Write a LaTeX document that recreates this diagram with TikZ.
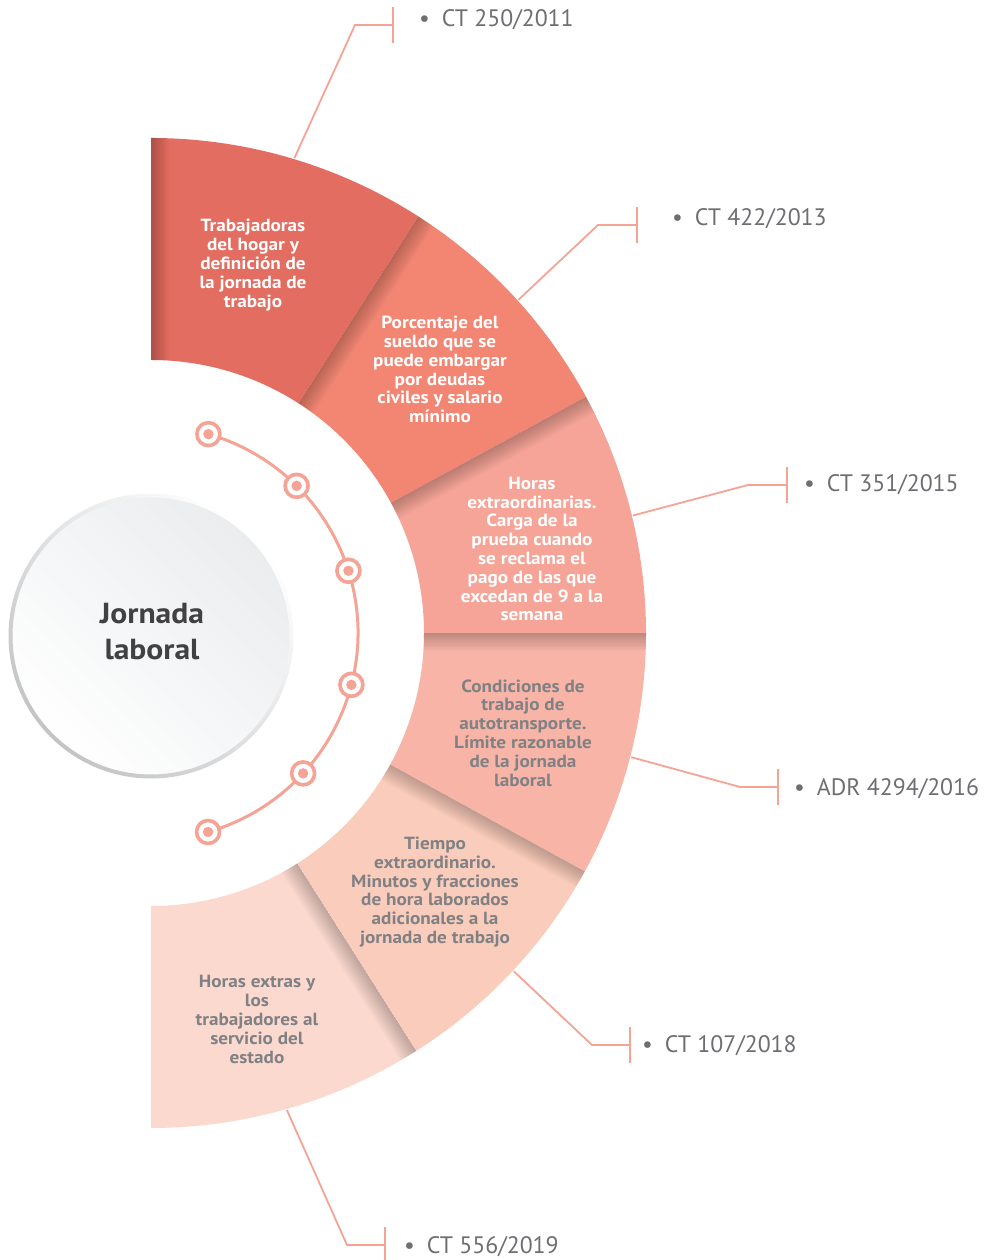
\documentclass[tikz,border=0pt]{standalone}
\usepackage{fontspec}
\setmainfont{PT Sans}
\newfontfamily\widefont[FakeStretch=1.09]{PT Sans}
\usetikzlibrary{calc}

\definecolor{seg1}{HTML}{E36D60}
\definecolor{seg2}{HTML}{F28673}
\definecolor{seg3}{HTML}{F5A497}
\definecolor{seg4}{HTML}{F8B4A7}
\definecolor{seg5}{HTML}{FACCBB}
\definecolor{seg6}{HTML}{FBD9CF}
\definecolor{salmon}{HTML}{F4A395}
\definecolor{labelgray}{HTML}{6D6E71}
\definecolor{softgray}{HTML}{808184}
\definecolor{hubgray}{HTML}{414042}
\definecolor{hubshade}{HTML}{EAECEE}
\definecolor{rimgray}{HTML}{C3C4C6}

\tikzset{
  segtext/.style={align=center, font=\widefont\bfseries\fontsize{17.6}{18.8}\selectfont, inner sep=0pt},
  lighttext/.style={segtext, text=white},
  darktext/.style={segtext, text=softgray},
  reflabel/.style={anchor=west, inner sep=0pt, text=labelgray, font=\fontsize{23.8}{27}\selectfont},
  leader/.style={draw=salmon, line width=1.8pt},
  marker/.style={circle, draw=salmon, line width=3.6pt, fill=white, minimum size=23pt, inner sep=0pt},
}

\begin{document}
\begin{tikzpicture}[x=1pt, y=1pt]
\useasboundingbox (0,0) rectangle (987,1260);

% ---- fan of topic segments around the hub ----
\begin{scope}[shift={(151,627)}]
  \foreach \a/\b/\col in {90/57.3/seg1, 57.3/28.5/seg2, 28.5/0/seg3,
                          0/-28.8/seg4, -28.8/-57.6/seg5, -57.6/-90/seg6}{
    \fill[\col] (\a:495) arc[start angle=\a, end angle=\b, radius=495]
      -- (\b:273) arc[start angle=\b, end angle=\a, radius=273] -- cycle;
    % soft shadow along the leading edge of each segment
    \begin{scope}
      \clip (\a:495) arc[start angle=\a, end angle=\b, radius=495]
        -- (\b:273) arc[start angle=\b, end angle=\a, radius=273] -- cycle;
      \foreach \i in {1,...,10}
        \fill[black, opacity=0.024, rotate=\a] (240,0) rectangle (520,{-1.8*\i});
    \end{scope}
  }

  % anchor points of the leader lines on the outer rim
  \coordinate (c1) at (73.2:496);
  \coordinate (c2) at (42.2:496);
  \coordinate (c3) at (13.7:496);
  \coordinate (c4) at (-14.5:496);
  \coordinate (c5) at (-43:496);
  \coordinate (c6) at (-74.1:496);

  % timeline arc with its markers
  \draw[salmon, line width=3pt] (73.9:207) arc[start angle=73.9, end angle=-74, radius=207];
  \foreach \n/\ang in {1/73.9, 2/45.3, 3/17.5, 4/-14.5, 5/-42.7, 6/-74}{
    \node[marker] (m\n) at (\ang:207) {};
    \fill[salmon] (m\n) circle (5.2);
  }
\end{scope}

% ---- central hub ----
\shade[top color=hubshade, bottom color=white, shading angle=-45] (151,624) circle (142);
\shade[even odd rule, top color=white, bottom color=rimgray, shading angle=-45]
  (151,624) circle (142.5) (151,624) circle (138.5);
\node[align=center, text=hubgray, font=\widefont\bfseries\fontsize{29}{36}\selectfont, inner sep=0pt]
  (hub) at (152,628) {Jornada\\laboral};

% ---- segment texts ----
\node[lighttext] (s1) at (253,995) {Trabajadoras\\del hogar y\\definición de\\la jornada de\\trabajo};
\node[lighttext] (s2) at (440,890.5) {Porcentaje del\\sueldo que se\\puede embargar\\por deudas\\civiles y salario\\mínimo};
\node[lighttext] (s3) at (532,711) {Horas\\extraordinarias.\\Carga de la\\prueba cuando\\se reclama el\\pago de las que\\excedan de 9 a la\\semana};
\node[darktext] (s4) at (523,527) {Condiciones de\\trabajo de\\autotransporte.\\Límite razonable\\de la jornada\\laboral};
\node[darktext] (s5) at (435,368) {Tiempo\\extraordinario.\\Minutos y fracciones\\de hora laborados\\adicionales a la\\jornada de trabajo};
\node[darktext] (s6) at (257,240.5) {Horas extras y\\los\\trabajadores al\\servicio del\\estado};

% ---- reference labels ----
\node[reflabel] (l1) at (419,1240) {•\hspace{12pt}CT 250/2011};
\node[reflabel] (l2) at (672,1041) {•\hspace{12pt}CT 422/2013};
\node[reflabel] (l3) at (804,775) {•\hspace{12pt}CT 351/2015};
\node[reflabel] (l4) at (794,471) {•\hspace{12pt}ADR 4294/2016};
\node[reflabel] (l5) at (642,214) {•\hspace{12pt}CT 107/2018};
\node[reflabel] (l6) at (404,13) {•\hspace{12pt}CT 556/2019};

% ---- leader lines: elbow and end tick ----
\coordinate (e1) at (355,1235); \coordinate (t1) at (393,1235);
\coordinate (e2) at (598,1035); \coordinate (t2) at (637,1035);
\coordinate (e3) at (748,775);  \coordinate (t3) at (787,775);
\coordinate (e4) at (740,473);  \coordinate (t4) at (778,473);
\coordinate (e5) at (592,215);  \coordinate (t5) at (630,215);
\coordinate (e6) at (347,15);   \coordinate (t6) at (385,15);

\foreach \k in {1,...,6}{
  \draw[leader] (c\k) -- (e\k) -- (t\k);
  \draw[leader] ([yshift=-18]t\k) -- ([yshift=18]t\k);
}
\end{tikzpicture}
\end{document}
